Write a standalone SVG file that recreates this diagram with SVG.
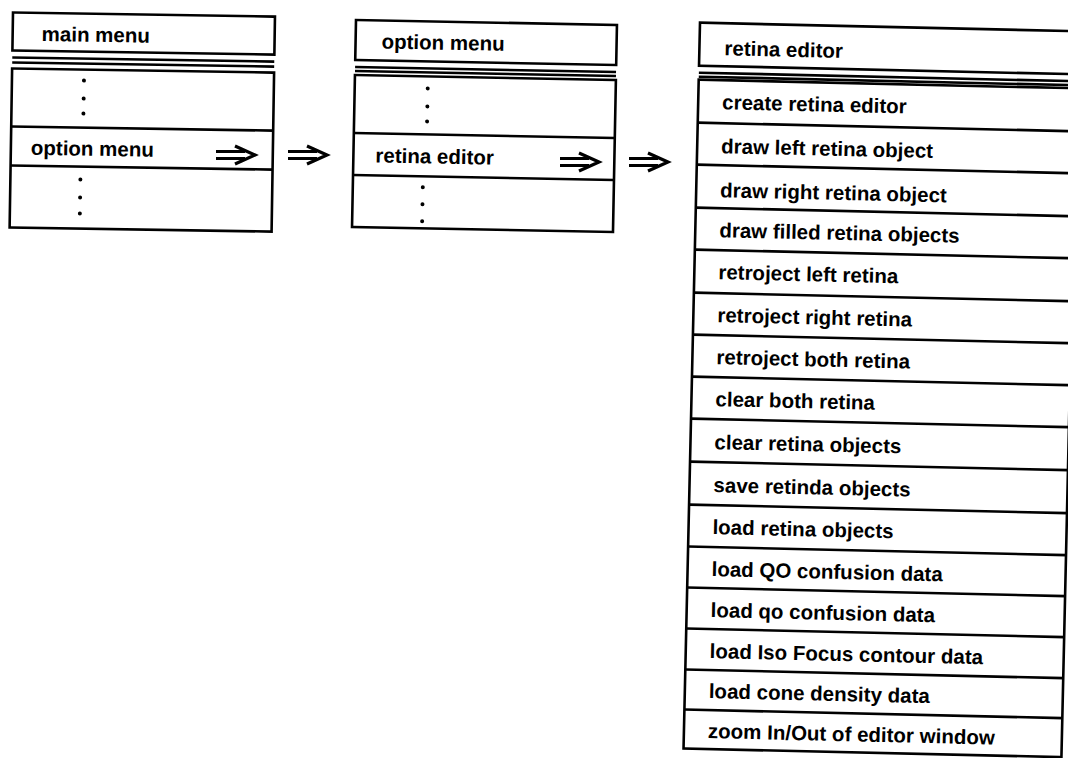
<svg xmlns="http://www.w3.org/2000/svg" xmlns:xlink="http://www.w3.org/1999/xlink" width="1068" height="758" viewBox="0 0 1068 758">
<style>
  .box { fill: #ffffff; stroke: #000000; stroke-width: 2.6; }
  .ln { fill: none; stroke: #000000; stroke-width: 2.6; }
  .t { font-family: "Liberation Sans", Arial, sans-serif; font-size: 20.5px; font-weight: bold; fill: #000000; }
  .dot { fill: #000000; }
  .arr { fill: none; stroke: #000000; stroke-width: 3.2; stroke-linejoin: miter; }
</style>
<defs>
  <g id="dblarrow">
    <path class="arr" d="M0,-3.5 H29 M0,3.5 H29 M19,-9 L39,0 L19,9"/>
  </g>
</defs>
<rect width="1068" height="758" fill="#ffffff"/>

<g id="main-menu">
  <g transform="translate(13,12.5) rotate(0.9)">
    <rect class="box" x="0" y="0" width="262" height="38"/>
    <path class="ln" d="M0,45 H262 M0,50 H262"/>
    <rect class="box" x="0" y="56" width="262" height="159"/>
    <path class="ln" d="M0,114 H262 M0,153 H262"/>
    <text class="t" x="29" y="28">main menu</text>
    <text class="t" x="20" y="142">option menu</text>
    <circle class="dot" cx="72" cy="67" r="2"/>
    <circle class="dot" cx="72" cy="85" r="2"/>
    <circle class="dot" cx="72" cy="100" r="2"/>
    <circle class="dot" cx="70" cy="166" r="2"/>
    <circle class="dot" cx="70" cy="184" r="2"/>
    <circle class="dot" cx="70" cy="200" r="2"/>
  </g>
  <use xlink:href="#dblarrow" href="#dblarrow" x="216" y="155"/>
</g>

<g id="option-menu">
  <g transform="translate(356,20) rotate(1.1)">
    <rect class="box" x="0" y="0" width="261" height="40"/>
    <path class="ln" d="M0,47 H261 M0,51 H261"/>
    <rect class="box" x="0" y="55" width="261" height="152"/>
    <path class="ln" d="M0,113 H261 M0,155 H261"/>
    <text class="t" x="26" y="28">option menu</text>
    <text class="t" x="22" y="142">retina editor</text>
    <circle class="dot" cx="73" cy="67" r="2"/>
    <circle class="dot" cx="73" cy="85" r="2"/>
    <circle class="dot" cx="73" cy="100" r="2"/>
    <circle class="dot" cx="70" cy="166" r="2"/>
    <circle class="dot" cx="70" cy="183" r="2"/>
    <circle class="dot" cx="70" cy="200" r="2"/>
  </g>
  <use xlink:href="#dblarrow" href="#dblarrow" x="560" y="162"/>
</g>

<g id="retina-editor">
  <g transform="translate(700,22.7) rotate(1.3)">
    <rect class="box" x="0" y="0" width="378" height="43"/>
    <path class="ln" d="M0,50 H378 M0,54 H378"/>
    <rect class="box" x="0" y="57" width="378" height="669"/>
    <path class="ln" d="M0,100 H378 M0,142 H378 M0,185 H378 M0,227 H378 M0,270 H378 M0,312 H378 M0,354 H378 M0,396 H378 M0,439 H378 M0,482 H378 M0,524 H378 M0,565 H378 M0,606 H378 M0,647 H378 M0,687 H378"/>
    <text class="t" x="25" y="32">retina editor</text>
    <text class="t" x="24" y="86">create retina editor</text>
    <text class="t" x="24" y="130">draw left retina object</text>
    <text class="t" x="24" y="174">draw right retina object</text>
    <text class="t" x="24" y="214">draw filled retina objects</text>
    <text class="t" x="24" y="256">retroject left retina</text>
    <text class="t" x="24" y="299">retroject right retina</text>
    <text class="t" x="24" y="341">retroject both retina</text>
    <text class="t" x="24" y="383">clear both retina</text>
    <text class="t" x="24" y="426">clear retina objects</text>
    <text class="t" x="24" y="469">save retinda objects</text>
    <text class="t" x="24" y="511">load retina objects</text>
    <text class="t" x="24" y="553">load QO confusion data</text>
    <text class="t" x="24" y="594">load qo confusion data</text>
    <text class="t" x="24" y="635">load Iso Focus contour data</text>
    <text class="t" x="24" y="675">load cone density data</text>
    <text class="t" x="24" y="715">zoom In/Out of editor window</text>
  </g>
</g>

<g id="connectors">
  <use xlink:href="#dblarrow" href="#dblarrow" x="288" y="155"/>
  <use xlink:href="#dblarrow" href="#dblarrow" x="629" y="162"/>
</g>
</svg>
